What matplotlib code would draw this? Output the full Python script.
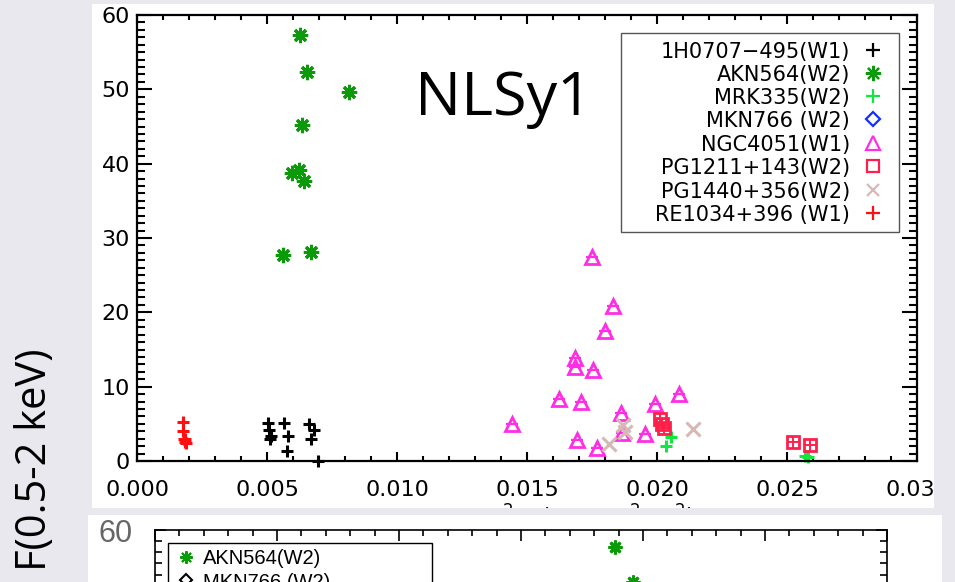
import matplotlib
matplotlib.use("Agg")
import matplotlib.pyplot as plt
from matplotlib.patches import Rectangle
from matplotlib.lines import Line2D
from matplotlib.ticker import MultipleLocator, FuncFormatter
from matplotlib.transforms import Bbox, TransformedBbox

# ---------------- data ----------------
h0707_x = [0.00504, 0.00508, 0.00515, 0.00510, 0.00565, 0.00581, 0.00577, 0.00662, 0.00681, 0.00669, 0.00696]
h0707_y = [5.1, 4.2, 3.4, 3.0, 5.1, 3.4, 1.3, 5.0, 4.2, 3.0, 0.0]

akn564_x = [0.00627, 0.00654, 0.00815, 0.00635, 0.00596, 0.00623, 0.00642, 0.00562, 0.00669]
akn564_y = [57.3, 52.3, 49.6, 45.2, 38.7, 39.2, 37.7, 27.7, 28.1]

mrk335_x = [0.02054, 0.02035, 0.02570, 0.02582]
mrk335_y = [3.2, 2.0, 0.7, 0.6]

mkn766_x = []
mkn766_y = []

ngc4051_x = [0.01750, 0.01831, 0.01800, 0.01685, 0.01685, 0.01754, 0.01623, 0.01708, 0.02085,
             0.01992, 0.01862, 0.01954, 0.01865, 0.01692, 0.01769, 0.01442]
ngc4051_y = [27.4, 20.9, 17.5, 13.9, 12.7, 12.2, 8.3, 7.9, 9.0,
             7.7, 6.5, 3.6, 3.8, 2.8, 1.7, 5.0]

pg1211_x = [0.02012, 0.02020, 0.02027, 0.02523, 0.02588]
pg1211_y = [5.6, 5.0, 4.4, 2.6, 2.1]

pg1440_x = [0.01869, 0.01877, 0.01815, 0.02138]
pg1440_y = [4.8, 3.9, 2.3, 4.3]

re1034_x = [0.00178, 0.00177, 0.00180, 0.00183, 0.00190, 0.00186]
re1034_y = [5.3, 4.0, 3.0, 2.6, 2.4, 2.9]

legend_names = ["1H0707\u2212495(W1)", "AKN564(W2)", "MRK335(W2)", "MKN766 (W2)",
                "NGC4051(W1)", "PG1211+143(W2)", "PG1440+356(W2)", "RE1034+396 (W1)"]

x_ticks = [0.000, 0.005, 0.010, 0.015, 0.020, 0.025, 0.030]
y_ticks = [0, 10, 20, 30, 40, 50, 60]

# second (lower) panel, only its top is visible
low_akn_x = [0.01885, 0.01959]
low_akn_y = [57.7, 53.0]
low_legend = ["AKN564(W2)", "MKN766 (W2)"]

# ---------------- figure ----------------
W, H = 955, 582
BG = '#e9e8ee'
fig = plt.figure(figsize=(W / 100, H / 100), dpi=100)
fig.patch.set_facecolor(BG)

def fx(px):
    return px / W

def fy(py):
    return 1 - py / H

# white slide panels
fig.add_artist(Rectangle((fx(92), fy(508)), fx(934) - fx(92), fy(4) - fy(508),
                         transform=fig.transFigure, facecolor='white', edgecolor='none', zorder=-5))
fig.add_artist(Rectangle((fx(88), fy(582)), fx(942) - fx(88), fy(515) - fy(582),
                         transform=fig.transFigure, facecolor='white', edgecolor='none', zorder=-5))

# ---------------- main axes ----------------
ax = fig.add_axes([fx(137), fy(461), fx(917) - fx(137), fy(15) - fy(461)])
ax.set_facecolor('white')
ax.set_xlim(0, 0.03)
ax.set_ylim(0, 60)
for s in ax.spines.values():
    s.set_linewidth(1.6)
ax.set_xticks(x_ticks)
ax.set_yticks(y_ticks)
ax.xaxis.set_minor_locator(MultipleLocator(0.001))
ax.yaxis.set_minor_locator(MultipleLocator(1))
ax.xaxis.set_major_formatter(FuncFormatter(lambda v, p: f"{v:.3f}"))
ax.yaxis.set_major_formatter(FuncFormatter(lambda v, p: f"{v:.0f}"))
ax.tick_params(axis='both', which='both', direction='in', top=True, right=True, width=1.5)
ax.tick_params(axis='x', which='major', length=6.5, labelsize=16, pad=14)
ax.tick_params(axis='x', which='minor', length=3.3)
ax.tick_params(axis='y', which='major', length=11, labelsize=16, pad=5)
ax.tick_params(axis='y', which='minor', length=5.6)

c_black = 'black'
c_akn = '#0a9a0a'
c_mrk = '#10e840'
c_mkn = '#1030ff'
c_ngc = '#ff2ee6'
c_pg1211 = '#ff1f4b'
c_pg1440 = '#d6b9b6'
c_re = '#ff1010'

star = (8, 2, 0)
ax.plot(h0707_x, h0707_y, ls='none', marker='+', ms=9, mew=2.2, color=c_black, clip_on=False)
ax.plot(akn564_x, akn564_y, ls='none', marker=star, ms=11, mew=2.2, color=c_akn)
ax.plot(akn564_x, akn564_y, ls='none', marker='+', ms=8, mew=2.2, color=c_akn)
ax.plot(mrk335_x, mrk335_y, ls='none', marker='+', ms=9, mew=2.2, color=c_mrk, clip_on=False)
ax.plot(mkn766_x, mkn766_y, ls='none', marker='D', ms=8, mfc='none', mew=1.8, color=c_mkn)
ax.plot(ngc4051_x, ngc4051_y, ls='none', marker='^', ms=10, mfc='none', mew=2.0, color=c_ngc)
ax.plot(ngc4051_x, ngc4051_y, ls='none', marker='_', ms=8, mew=1.6, color=c_ngc)
ax.plot(pg1211_x, pg1211_y, ls='none', marker='s', ms=9, mfc='none', mew=2.0, color=c_pg1211)
ax.plot(pg1211_x, pg1211_y, ls='none', marker='+', ms=9, mew=1.4, color=c_pg1211)
ax.plot(pg1440_x, pg1440_y, ls='none', marker='x', ms=10, mew=2.2, color=c_pg1440)
ax.plot(re1034_x, re1034_y, ls='none', marker='+', ms=9, mew=2.2, color=c_re)

# big label
fig.text(fx(503), fy(115), "NLSy1", fontsize=44, family=['Open Sans', 'DejaVu Sans'],
         ha='center', va='baseline', color='black')

# legend drawn IDL-style (text then symbol)
fig.add_artist(Rectangle((fx(621), fy(232)), fx(899) - fx(621), fy(33) - fy(232),
                         transform=fig.transFigure, facecolor='white', edgecolor='#555555',
                         linewidth=1.0, zorder=3))
leg_style = [
    dict(marker='+', ms=10, mew=1.6, color=c_black, mfc='none'),
    dict(marker=star, ms=11, mew=1.6, color=c_akn, mfc='none'),
    dict(marker='+', ms=10, mew=1.6, color=c_mrk, mfc='none'),
    dict(marker='D', ms=7.5, mew=1.6, color=c_mkn, mfc='none'),
    dict(marker='^', ms=10, mew=1.6, color=c_ngc, mfc='none'),
    dict(marker='s', ms=9, mew=1.6, color=c_pg1211, mfc='none'),
    dict(marker='x', ms=9, mew=1.6, color=c_pg1440, mfc='none'),
    dict(marker='+', ms=10, mew=1.6, color=c_re, mfc='none'),
]
row_y = [50, 73, 96, 119.5, 143, 166, 190, 213]
for name, st, ry in zip(legend_names, leg_style, row_y):
    fig.text(fx(850), fy(ry), name, fontsize=15, ha='right', va='center_baseline',
             color='black', zorder=4)
    fig.add_artist(Line2D([fx(873)], [fy(ry)], transform=fig.transFigure, ls='none',
                          zorder=4, **st))

# x axis title, mostly hidden under the next slide panel
xt = fig.text(fx(590), fy(503), r"$\sigma^{2}_{\rm rms}$ (counts$^{2}$ s$^{-2}$)", fontsize=17,
              ha='center', va='top', color='black')
xt.set_clip_box(TransformedBbox(Bbox.from_extents(0, fy(508), 1, 1), fig.transFigure))
xt.set_clip_on(True)

# grey slide margin on the right (crops the last tick label)
fig.add_artist(Rectangle((fx(934), fy(508)), fx(955) - fx(934), fy(0) - fy(508),
                         transform=fig.transFigure, facecolor=BG, edgecolor='none', zorder=5))

# y axis title of the slide
fig.text(fx(35), fy(460), "F(0.5-2 keV)", rotation=90, fontsize=30,
         family=['Open Sans', 'DejaVu Sans'], ha='center', va='center', color='black')

# ---------------- lower panel (top part only) ----------------
ax2 = fig.add_axes([fx(155), fy(976), fx(887) - fx(155), fy(530) - fy(976)])
ax2.set_facecolor('white')
ax2.set_xlim(0, 0.03)
ax2.set_ylim(0, 60)
for s in ax2.spines.values():
    s.set_linewidth(1.2)
ax2.set_xticks(x_ticks)
ax2.set_yticks([60])
ax2.xaxis.set_minor_locator(MultipleLocator(0.001))
ax2.yaxis.set_minor_locator(MultipleLocator(1.5))
ax2.tick_params(axis='both', which='both', direction='in', top=True, right=True,
                labelbottom=False, width=1.2)
ax2.tick_params(axis='x', which='major', length=8)
ax2.tick_params(axis='x', which='minor', length=4)
ax2.tick_params(axis='y', which='major', length=8, labelsize=22, pad=16, labelcolor='#666666')
ax2.tick_params(axis='y', which='minor', length=5)
for lab in ax2.get_yticklabels():
    lab.set_family(['Liberation Sans Narrow', 'Liberation Sans'])
ax2.plot(low_akn_x, low_akn_y, ls='none', marker=star, ms=10, mew=2.0, color=c_akn, clip_on=False)
ax2.plot(low_akn_x, low_akn_y, ls='none', marker='+', ms=8, mew=2.0, color=c_akn, clip_on=False)

fig.add_artist(Rectangle((fx(168), fy(640)), fx(432) - fx(168), fy(543) - fy(640),
                         transform=fig.transFigure, facecolor='white', edgecolor='black',
                         linewidth=1.0, zorder=3))
low_style = [dict(marker=star, ms=9, mew=1.5, color=c_akn, mfc='none'),
             dict(marker='D', ms=6, mew=1.5, color='black', mfc='none')]
for name, st, ry in zip(low_legend, low_style, [557, 580]):
    fig.text(fx(203), fy(ry), name, fontsize=14.5, family=['Liberation Sans Narrow', 'Liberation Sans'],
             ha='left', va='center_baseline', color='black', zorder=4)
    fig.add_artist(Line2D([fx(186)], [fy(ry)], transform=fig.transFigure, ls='none', zorder=4, **st))

fig.savefig("out.png", dpi=100, facecolor=fig.get_facecolor())
